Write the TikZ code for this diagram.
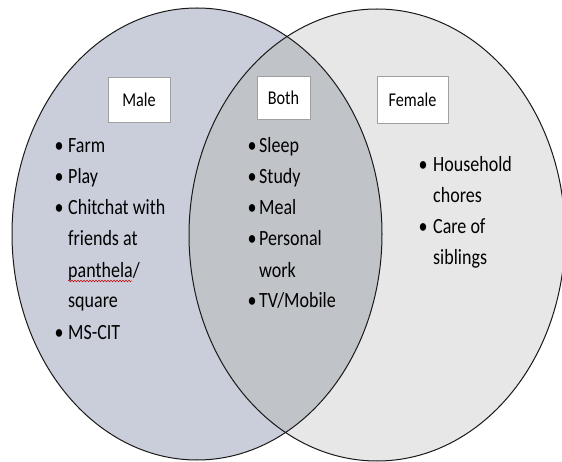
\documentclass[tikz,border=0pt]{standalone}
\usepackage{fontspec}
\setmainfont{Carlito}[FakeStretch=0.83]
\usetikzlibrary{decorations.pathmorphing}
\definecolor{leftfill}{HTML}{C9CEDA}
\definecolor{rightfill}{HTML}{E7E7E7}
\definecolor{bothfill}{HTML}{C0C3C8}
\definecolor{boxline}{HTML}{A0A0A0}
\tikzset{
  txt/.style={inner sep=0pt, anchor=base west, font=\fontsize{21.7}{26}\selectfont, text=black},
  bul/.style={inner sep=0pt, anchor=base, font=\fontsize{21.7}{26}\selectfont, text=black},
  labelbox/.style={draw=boxline, line width=0.6pt, fill=white, inner sep=0pt, font=\fontsize{19.5}{24}\selectfont, text=black},
  venn/.style={draw=black!90, line width=1pt}
}
\begin{document}
\begin{tikzpicture}[x=1pt,y=-1pt]
\clip (0,0) rectangle (562,462);
\fill[white] (0,0) rectangle (562,462);
% circles
\fill[leftfill] (197,234) ellipse [x radius=185, y radius=226];
\fill[rightfill] (377,235) ellipse [x radius=188, y radius=226];
\begin{scope}
  \clip (197,234) ellipse [x radius=185, y radius=226];
  \fill[bothfill] (377,235) ellipse [x radius=188, y radius=226];
\end{scope}
\draw[venn] (197,234) ellipse [x radius=185, y radius=226];
\draw[venn] (377,235) ellipse [x radius=188, y radius=226];
% label boxes
\node[labelbox, minimum width=62, minimum height=45] (male) at (139,99.5) {Male};
\node[labelbox, minimum width=53, minimum height=43] (both) at (283.5,97.5) {Both};
\node[labelbox, minimum width=71, minimum height=47] (female) at (412.5,99.5) {Female};
% male list
\node[bul] (mb1) at (59,153) {•};
\node[txt] (m1) at (68,153) {Farm};
\node[bul] (mb2) at (59,184) {•};
\node[txt] (m2) at (68,184) {Play};
\node[bul] (mb3) at (59,215) {•};
\node[txt] (m3) at (68,215) {Chitchat with};
\node[txt] (m4) at (68,246) {friends at};
\node[txt] (m5) at (68,277) {panthela/};
\node[txt] (m6) at (68,308) {square};
\node[bul] (mb4) at (59,339) {•};
\node[txt] (m7) at (68,339) {MS-CIT};
\draw[red!80!black, line width=0.5pt, decorate, decoration={snake, amplitude=0.8pt, segment length=3pt}]
  ([yshift=-4pt]m5.base west) -- ([yshift=-4pt, xshift=64pt]m5.base west);
% both list
\node[bul] (bb1) at (252,153) {•};
\node[txt] (b1) at (259,153) {Sleep};
\node[bul] (bb2) at (252,184) {•};
\node[txt] (b2) at (259,184) {Study};
\node[bul] (bb3) at (252,215) {•};
\node[txt] (b3) at (259,215) {Meal};
\node[bul] (bb4) at (252,246) {•};
\node[txt] (b4) at (259,246) {Personal};
\node[txt] (b5) at (259,277) {work};
\node[bul] (bb5) at (252,308) {•};
\node[txt] (b6) at (259,308) {TV/Mobile};
% female list
\node[bul] (fb1) at (423,172) {•};
\node[txt] (f1) at (433,172) {Household};
\node[txt] (f2) at (433,203) {chores};
\node[bul] (fb2) at (423,234) {•};
\node[txt] (f3) at (433,234) {Care of};
\node[txt] (f4) at (433,265) {siblings};
\end{tikzpicture}
\end{document}
